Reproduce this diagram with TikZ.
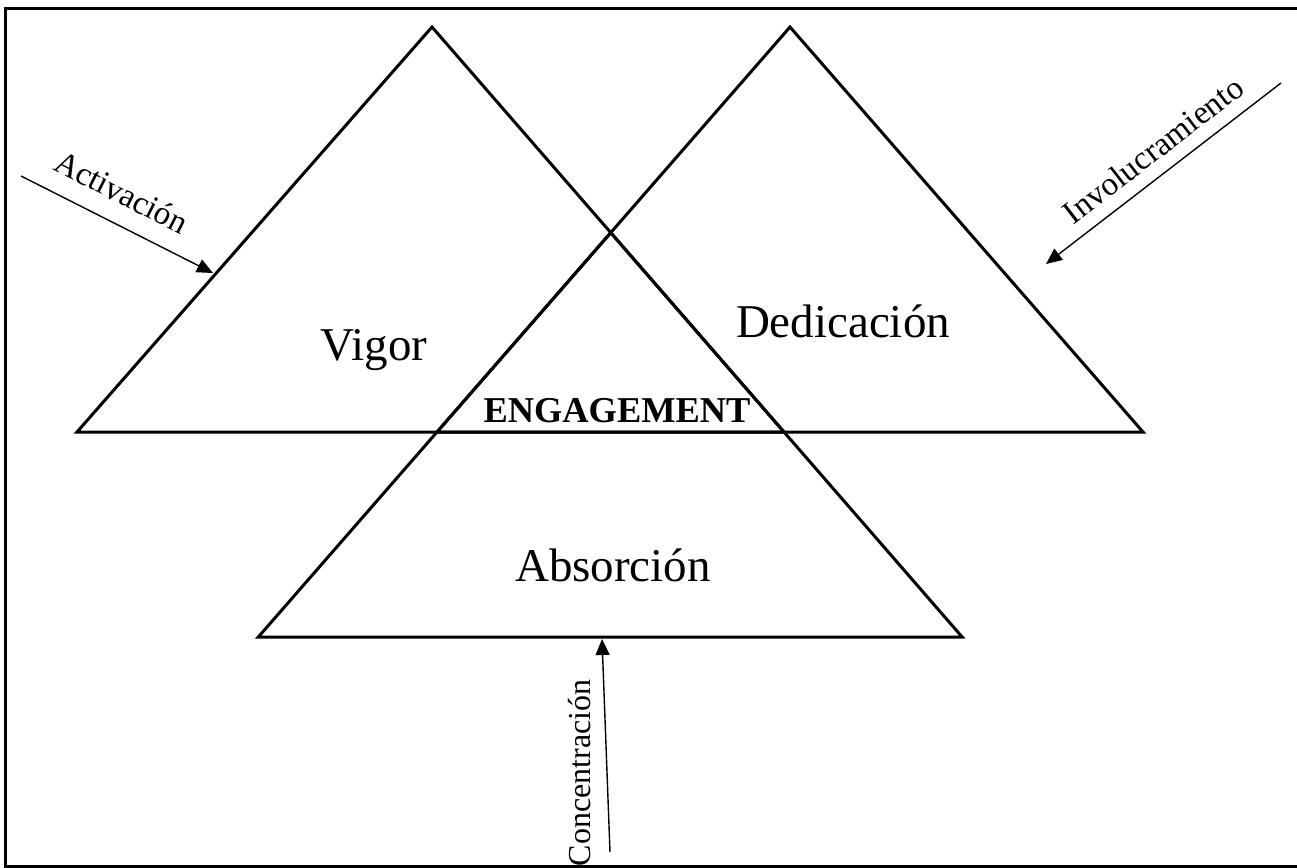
\documentclass[tikz,border=0pt]{standalone}
\usepackage{fontspec}
\setmainfont{Liberation Serif}
\usetikzlibrary{arrows.meta,calc}
\begin{document}
\begin{tikzpicture}[x=0.5pt,y=-0.5pt,
  tri/.style={line width=1.5pt,line join=miter},
  frame/.style={line width=1.5pt},
  arr/.style={line width=0.7pt,-{Triangle[length=8pt,width=7pt]}},
  big/.style={inner sep=0pt,anchor=base,font=\fontsize{23.5}{28}\selectfont},
  small/.style={inner sep=0pt,font=\fontsize{16.5}{20}\selectfont},
  core/.style={inner sep=0pt,anchor=base,font=\fontsize{18.2}{22}\bfseries\selectfont}]
\useasboundingbox (0,0) rectangle (1297,868);
% frame
\draw[frame] (1300,8) -- (5,8) -- (5,866) -- (1300,866);
% triangle vertices
\coordinate (Ltop) at (432,27);
\coordinate (Lbl) at (77,432);
\coordinate (Lbr) at (784,432);
\coordinate (Rtop) at (790,27);
\coordinate (Rbl) at (437,432);
\coordinate (Rbr) at (1143,432);
\coordinate (Btop) at (intersection of Ltop--Lbr and Rtop--Rbl);
\coordinate (Bbl) at ($(Rtop)!1.5062!(Rbl)$);
\coordinate (Bbr) at ($(Ltop)!1.5062!(Lbr)$);
\draw[tri] (Ltop) -- (Lbl) -- (Lbr) -- cycle;
\draw[tri] (Rtop) -- (Rbl) -- (Rbr) -- cycle;
\draw[tri] (Btop) -- (Bbl) -- (Bbr) -- cycle;
% labels
\node[big] (vigor) at (374,360) {Vigor};
\node[big] (dedic) at (843,337) {Dedicación};
\node[big] (absor) at (613,581) {Absorción};
\node[core] (eng) at (617,422) {ENGAGEMENT};
% arrows
\coordinate (aS) at (21,176);
\coordinate (aE) at (213,273);
\draw[arr] (aS) -- (aE);
\node[small,rotate=-27] (act) at (122,192) {Activación};
\coordinate (iS) at (1281,83);
\coordinate (iE) at (1046,264);
\draw[arr] (iS) -- (iE);
\node[small,rotate=37.7] (inv) at (1153,150) {Involucramiento};
\coordinate (cS) at (610,852);
\coordinate (cE) at (602,639);
\draw[arr] (cS) -- (cE);
\node[small,rotate=90,font=\fontsize{16}{19}\selectfont] (conc) at (580,773) {Concentración};
\end{tikzpicture}
\end{document}
